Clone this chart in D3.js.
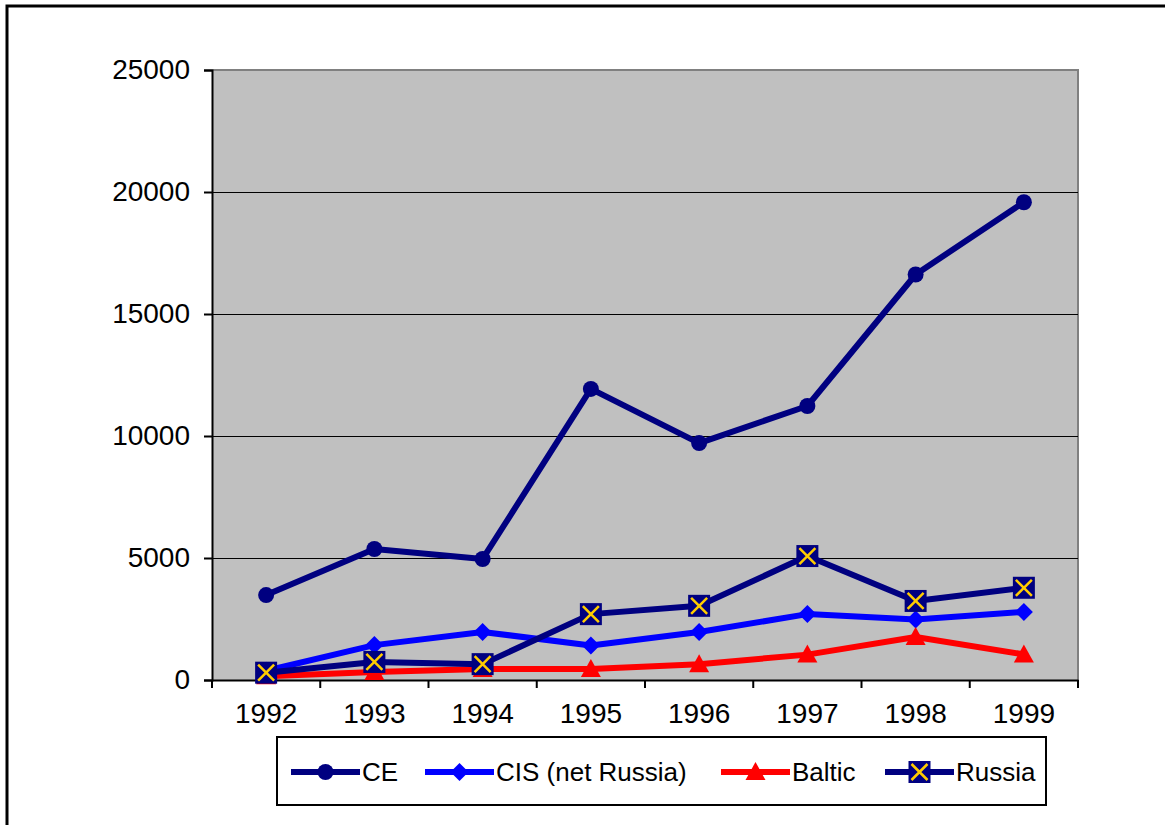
<!DOCTYPE html>
<html><head><meta charset="utf-8">
<script src="https://cdn.jsdelivr.net/npm/d3@7"></script>
<style>body{margin:0;background:#fff}svg{display:block;font-family:"Liberation Sans",Arial,sans-serif}</style>
</head><body><svg id="c" width="1165" height="825"></svg>
<script>
const years = ["1992","1993","1994","1995","1996","1997","1998","1999"];
const ce = [3480, 5370, 4960, 11930, 9710, 11230, 16620, 19580];
const cis = [380, 1430, 1970, 1410, 1970, 2700, 2480, 2790];
const baltic = [150, 330, 450, 450, 650, 1040, 1760, 1050];
const russia = [300, 740, 650, 2700, 3040, 5080, 3240, 3780];
const yTicks = [0, 5000, 10000, 15000, 20000, 25000];

const series = [
  {name:"CE", values:ce, color:"#000080", marker:"circle"},
  {name:"CIS (net Russia)", values:cis, color:"#0000FF", marker:"diamond"},
  {name:"Baltic", values:baltic, color:"#FF0000", marker:"triangle"},
  {name:"Russia", values:russia, color:"#000080", marker:"square"}
];

const svg = d3.select("#c");
const L=212, R=1078, T=70, B=680;
const x = d3.scaleBand().domain(years).range([L,R]);
const y = d3.scaleLinear().domain([0,25000]).range([B,T]);

// chart border
svg.append("rect").attr("x",7).attr("y",6).attr("width",1170).attr("height",830)
  .attr("fill","none").attr("stroke","#000").attr("stroke-width",3);

// plot area
svg.append("rect").attr("x",L).attr("y",T).attr("width",R-L).attr("height",B-T).attr("fill","#C0C0C0");
svg.append("path").attr("d",`M${L},${T}H${R}V${B}`).attr("fill","none").attr("stroke","#808080").attr("stroke-width",2);

// gridlines
svg.append("g").selectAll("line").data(yTicks.filter(d=>d>0 && d<25000)).join("line")
  .attr("x1",L).attr("x2",R).attr("y1",d=>Math.round(y(d))+0.5).attr("y2",d=>Math.round(y(d))+0.5)
  .attr("stroke","#000").attr("stroke-width",1).attr("shape-rendering","crispEdges");

// y axis
const ya = svg.append("g").attr("transform",`translate(${L},0)`)
  .call(d3.axisLeft(y).tickValues(yTicks).tickSize(8).tickPadding(14).tickFormat(d3.format("d")));
ya.select(".domain").attr("stroke","#000").attr("stroke-width",2);
ya.selectAll(".tick line").attr("stroke","#000").attr("stroke-width",2);
ya.selectAll("text").attr("font-size",28).attr("fill","#000").attr("font-family","Liberation Sans, Arial, sans-serif");

// x axis
const xa = svg.append("g").attr("transform",`translate(0,${B})`)
  .call(d3.axisBottom(x).tickSize(0).tickPadding(23));
xa.select(".domain").attr("stroke","#000").attr("stroke-width",2);
xa.selectAll("text").attr("font-size",28).attr("fill","#000").attr("font-family","Liberation Sans, Arial, sans-serif");
// boundary ticks
const bounds = years.map(d=>x(d)).concat([R]);
svg.append("g").selectAll("line").data(bounds).join("line")
  .attr("x1",d=>d).attr("x2",d=>d).attr("y1",B).attr("y2",B+8).attr("stroke","#000").attr("stroke-width",2);

const cx = d => x(d) + x.bandwidth()/2;
const line = d3.line().x((v,i)=>cx(years[i])).y(v=>y(v));

function drawMarker(g, type, px, py, color){
  if(type==="circle"){
    g.append("circle").attr("cx",px).attr("cy",py).attr("r",8).attr("fill",color);
  } else if(type==="diamond"){
    g.append("path").attr("d",`M${px},${py-9}L${px+9},${py}L${px},${py+9}L${px-9},${py}Z`).attr("fill",color);
  } else if(type==="triangle"){
    g.append("path").attr("d",`M${px},${py-10}L${px+10},${py+8}L${px-10},${py+8}Z`).attr("fill",color);
  } else if(type==="square"){
    g.append("rect").attr("x",px-11).attr("y",py-11).attr("width",22).attr("height",22).attr("fill",color);
    g.append("path").attr("d",`M${px-8},${py-8}L${px+8},${py+8}M${px+8},${py-8}L${px-8},${py+8}`)
      .attr("stroke","#FFCC00").attr("stroke-width",2.5).attr("fill","none");
  }
}

series.forEach(s=>{
  const g = svg.append("g");
  g.append("path").attr("d",line(s.values)).attr("fill","none").attr("stroke",s.color)
    .attr("stroke-width",6).attr("stroke-linejoin","round");
  s.values.forEach((v,i)=>drawMarker(g, s.marker, cx(years[i]), y(v), s.color));
});

// legend
svg.append("rect").attr("x",277).attr("y",737).attr("width",769).attr("height",68)
  .attr("fill","#fff").attr("stroke","#000").attr("stroke-width",2);
const legX = [291, 425, 721, 885];
series.forEach((s,i)=>{
  const g = svg.append("g");
  const x0 = legX[i], yy = 772;
  g.append("line").attr("x1",x0).attr("x2",x0+69).attr("y1",yy).attr("y2",yy)
    .attr("stroke",s.color).attr("stroke-width",6);
  drawMarker(g, s.marker, x0+34.5, yy, s.color);
  g.append("text").attr("x",x0+71).attr("y",yy).attr("dy","0.36em").attr("font-size",26)
    .attr("fill","#000").text(s.name);
});
</script></body></html>
